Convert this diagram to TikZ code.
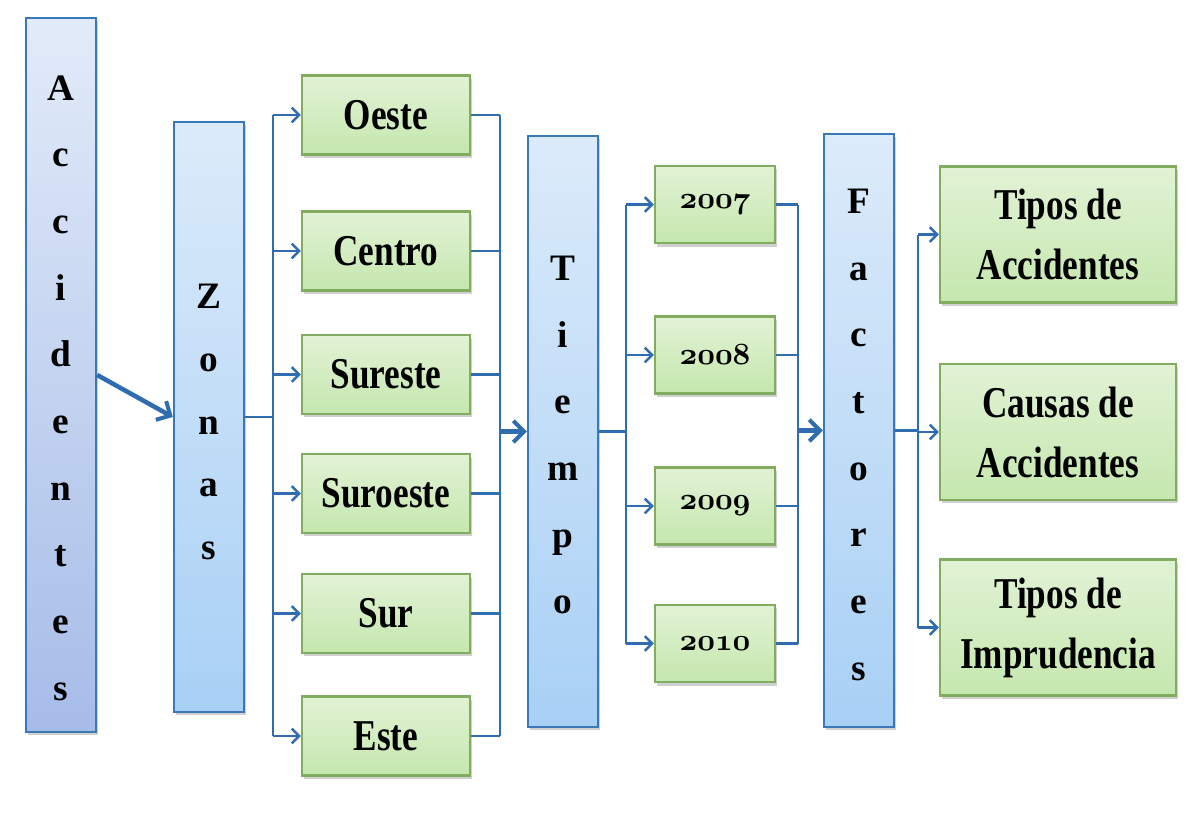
\documentclass[tikz,border=0pt]{standalone}
\usepackage{fontspec}
\setmainfont{Liberation Serif}
\newfontfamily\lblfont{Liberation Serif}[FakeStretch=0.8]
\newcommand\oldyear[1]{\scalebox{0.93}{\fontencoding{OML}\fontfamily{cmm}\fontseries{b}\fontshape{it}\fontsize{24.88}{28}\selectfont #1}}
\usetikzlibrary{arrows.meta,shadows}
\definecolor{edgeblue}{HTML}{3A78B8}
\definecolor{lineblue}{HTML}{2F6DB0}
\definecolor{accTop}{HTML}{E2EBF9}
\definecolor{accBot}{HTML}{A6BCE8}
\definecolor{colTop}{HTML}{DCEBFA}
\definecolor{colBot}{HTML}{A8D0F5}
\definecolor{grnEdge}{HTML}{82AC5E}
\definecolor{grnTop}{HTML}{E2F2D5}
\definecolor{grnMid}{HTML}{F0F9EA}
\definecolor{grnBot}{HTML}{C5E7AE}
\tikzset{
  shadowed/.style={drop shadow={shadow xshift=1.5pt,shadow yshift=-2.5pt,opacity=0.3,fill=black!60}},
  colbox/.style={shadowed,draw=edgeblue,line width=1.8pt,top color=colTop,bottom color=colBot,
    minimum width=52.5pt,align=center,inner sep=0pt},
  accbox/.style={colbox,top color=accTop,bottom color=accBot},
  grnbox/.style={shadowed,draw=grnEdge,line width=1.8pt,top color=grnTop,middle color=grnMid,bottom color=grnBot,
    align=center,inner sep=0pt,font=\lblfont\bfseries\fontsize{33}{45}\selectfont},
  zonebox/.style={grnbox,minimum width=126pt,minimum height=59pt},
  yearbox/.style={grnbox,minimum width=90pt,minimum height=58pt},
  factbox/.style={grnbox,minimum width=177pt,minimum height=102pt},
  conn/.style={draw=lineblue,line width=2.2pt},
  arr/.style={conn,-{Straight Barb[length=5.5pt,width=11pt,line width=1.8pt]}},
  bigarr/.style={draw=lineblue,line width=3.4pt,-{Straight Barb[length=8pt,width=16pt,line width=3pt]}},
}
\begin{document}
\begin{tikzpicture}[x=0.75pt,y=-0.75pt]
\fill[white] (0,0) rectangle (1199,813);
\useasboundingbox (0,0) rectangle (1199,813);

% column boxes
\node[accbox,minimum height=535.5pt,font=\bfseries\fontsize{28}{50}\selectfont] (acc) at (61,375)
  {\rule{0pt}{38pt}A\\c\\c\\i\\d\\e\\n\\t\\e\\s};
\node[colbox,minimum height=442.5pt,font=\bfseries\fontsize{28}{47}\selectfont] (zonas) at (209,417)
  {\rule{0pt}{26pt}Z\\o\\n\\a\\s};
\node[colbox,minimum height=443pt,font=\bfseries\fontsize{28}{50}\selectfont] (tiempo) at (563,431.5)
  {\rule{0pt}{24pt}T\\i\\e\\m\\p\\o};
\node[colbox,minimum height=444.5pt,font=\bfseries\fontsize{28}{50}\selectfont] (factores) at (859,430.5)
  {\rule{0pt}{25pt}F\\a\\c\\t\\o\\r\\e\\s};

% zones
\node[zonebox] (oeste) at (386,115) {Oeste};
\node[zonebox] (centro) at (386,251) {Centro};
\node[zonebox] (sureste) at (386,374.5) {Sureste};
\node[zonebox] (suroeste) at (386,493.5) {Suroeste};
\node[zonebox] (sur) at (386,613.5) {Sur};
\node[zonebox] (este) at (386,736) {Este};

% years
\node[yearbox] (y7) at (715,204.5) {\oldyear{2007}};
\node[yearbox] (y8) at (715,355) {\oldyear{2008}};
\node[yearbox] (y9) at (715,506) {\oldyear{2009}};
\node[yearbox] (y10) at (715,643.5) {\oldyear{2010}};

% factors
\node[factbox] (tipacc) at (1058,234.5) {Tipos de\\Accidentes};
\node[factbox] (causas) at (1058,432) {Causas de\\Accidentes};
\node[factbox] (tipimp) at (1058,627.5) {Tipos de\\Imprudencia};

% Accidentes -> Zonas
\draw[bigarr] (acc.east) -- (zonas.west);

% Zonas -> zones
\coordinate (zb) at (273,417);
\draw[conn] (zonas.east) -- (zb);
\draw[conn] (zb |- oeste.west) -- (zb |- este.west);
\foreach \b in {oeste,centro,sureste,suroeste,sur,este}
  \draw[arr] (zb |- \b.west) -- (\b.west);

% zones -> Tiempo
\coordinate (zr) at (500,431.5);
\draw[conn] (oeste.east -| zr) -- (este.east -| zr);
\foreach \b in {oeste,centro,sureste,suroeste,sur,este}
  \draw[conn] (\b.east) -- (\b.east -| zr);
\draw[bigarr] (zr |- tiempo.west) -- (tiempo.west);

% Tiempo -> years
\coordinate (tb) at (626,431.5);
\draw[conn] (tiempo.east) -- (tb);
\draw[conn] (tb |- y7.west) -- (tb |- y10.west);
\foreach \b in {y7,y8,y9,y10}
  \draw[arr] (tb |- \b.west) -- (\b.west);

% years -> Factores
\coordinate (yr) at (798,430.5);
\draw[conn] (y7.east -| yr) -- (y10.east -| yr);
\foreach \b in {y7,y8,y9,y10}
  \draw[conn] (\b.east) -- (\b.east -| yr);
\draw[bigarr] (yr |- factores.west) -- (factores.west);

% Factores -> factor boxes
\coordinate (fb) at (918,430.5);
\draw[conn] (factores.east) -- (fb);
\draw[conn] (fb |- tipacc.west) -- (fb |- tipimp.west);
\foreach \b in {tipacc,causas,tipimp}
  \draw[arr] (fb |- \b.west) -- (\b.west);
\end{tikzpicture}
\end{document}
